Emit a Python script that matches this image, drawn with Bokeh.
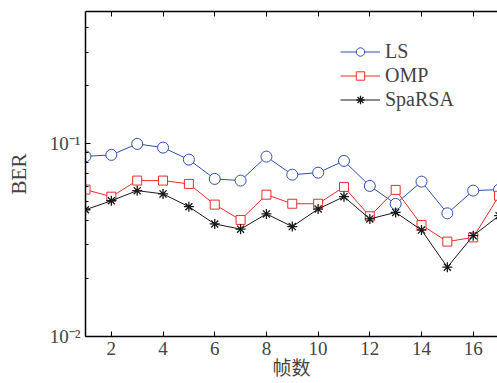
from bokeh.plotting import figure
from bokeh.models import (LinearAxis, Range1d, FixedTicker, Legend, LegendItem)
from bokeh.embed import file_html
from bokeh.resources import INLINE

frames = list(range(1, 18))
ls_ber = [0.0862, 0.0877, 0.100, 0.0957, 0.0829, 0.0658, 0.0645, 0.0859, 0.0692,
          0.0709, 0.0816, 0.0605, 0.0488, 0.0637, 0.0436, 0.0572, 0.0579]
omp_ber = [0.0579, 0.0532, 0.0645, 0.0645, 0.0620, 0.0484, 0.0403, 0.0545, 0.0489,
           0.0489, 0.0598, 0.0421, 0.0577, 0.0379, 0.0311, 0.0327, 0.0538]
sparsa_ber = [0.0455, 0.0507, 0.0572, 0.0550, 0.0472, 0.0384, 0.0361, 0.0433, 0.0372,
              0.0459, 0.0532, 0.0408, 0.0441, 0.0357, 0.0229, 0.0334, 0.0424]
x_ticks = [2, 4, 6, 8, 10, 12, 14, 16]
y_ticks = [0.01, 0.1]
y_tick_labels = ["10\u207b\u00b2", "10\u207b\u00b9"]
y_minor_ticks = [0.02, 0.03, 0.04, 0.05, 0.06, 0.07, 0.08, 0.09, 0.2, 0.3, 0.4]
x_title = "帧数"
y_title = "BER"

SERIF = "Liberation Serif"

p = figure(width=497, height=383, y_axis_type="log", output_backend="svg",
           toolbar_location=None, x_range=Range1d(1, 16.94),
           y_range=Range1d(0.01, 0.487),
           min_border_left=85, min_border_right=0, min_border_top=11,
           min_border_bottom=47)
p.outline_line_color = None
p.xgrid.visible = False
p.ygrid.visible = False
p.background_fill_color = "white"

r_ls_l = p.line(frames, ls_ber, line_color="#2F4FAD", line_width=1)
r_ls_m = p.scatter(frames, ls_ber, marker="circle", size=11, line_color="#2F4FAD",
                   fill_color="white", line_width=1)
r_omp_l = p.line(frames, omp_ber, line_color="#EE2A2F", line_width=1)
r_omp_m = p.scatter(frames, omp_ber, marker="square", size=9, line_color="#EE2A2F",
                    fill_color="white", line_width=1)
r_sp_l = p.line(frames, sparsa_ber, line_color="#1a1a1a", line_width=1)
r_sp_m = p.scatter(frames, sparsa_ber, marker="asterisk", size=10, line_color="#1a1a1a",
                   line_width=1.3)

for ax in p.xaxis:
    ax.ticker = FixedTicker(ticks=x_ticks)
    ax.axis_label = x_title
    ax.axis_label_text_font = "'Liberation Serif', 'Noto Sans CJK SC'"
    ax.axis_label_text_font_style = "normal"
    ax.axis_label_text_font_size = "19px"
    ax.axis_label_standoff = 0
    ax.major_label_text_font = SERIF
    ax.major_label_text_font_size = "19px"
    ax.major_label_standoff = 5
    ax.major_tick_in = 5
    ax.major_tick_out = 0
    ax.minor_tick_line_color = None
    ax.axis_line_width = 1.5
    ax.axis_line_color = "black"
    ax.major_tick_line_color = "black"

for ax in p.yaxis:
    ax.ticker = FixedTicker(ticks=y_ticks, minor_ticks=y_minor_ticks)
    ax.major_label_overrides = dict(zip(y_ticks, y_tick_labels))
    ax.axis_label = y_title
    ax.axis_label_text_font = SERIF
    ax.axis_label_text_font_style = "normal"
    ax.axis_label_text_font_size = "21px"
    ax.axis_label_standoff = 16
    ax.major_label_text_font = SERIF
    ax.major_label_text_font_size = "19px"
    ax.major_label_standoff = 5
    ax.major_tick_in = 5
    ax.major_tick_out = 0
    ax.minor_tick_in = 3
    ax.minor_tick_out = 0
    ax.axis_line_width = 1.5
    ax.axis_line_color = "black"

top = LinearAxis(ticker=FixedTicker(ticks=x_ticks),
                 major_label_overrides={t: "" for t in x_ticks},
                 major_tick_in=5, major_tick_out=0, minor_tick_line_color=None,
                 axis_line_width=1.5, major_label_standoff=0)
p.add_layout(top, "above")

legend = Legend(items=[
    LegendItem(label="LS", renderers=[r_ls_l, r_ls_m]),
    LegendItem(label="OMP", renderers=[r_omp_l, r_omp_m]),
    LegendItem(label="SpaRSA", renderers=[r_sp_l, r_sp_m]),
], location=(255, 225))
legend.border_line_color = None
legend.background_fill_alpha = 0
legend.padding = 0
legend.margin = 0
legend.spacing = 1
legend.glyph_height = 21
legend.glyph_width = 40
legend.label_height = 21
legend.label_standoff = 5
legend.label_text_font = SERIF
legend.label_text_font_size = "20px"
p.add_layout(legend)

open("out.html", "w").write(file_html(p, INLINE))
